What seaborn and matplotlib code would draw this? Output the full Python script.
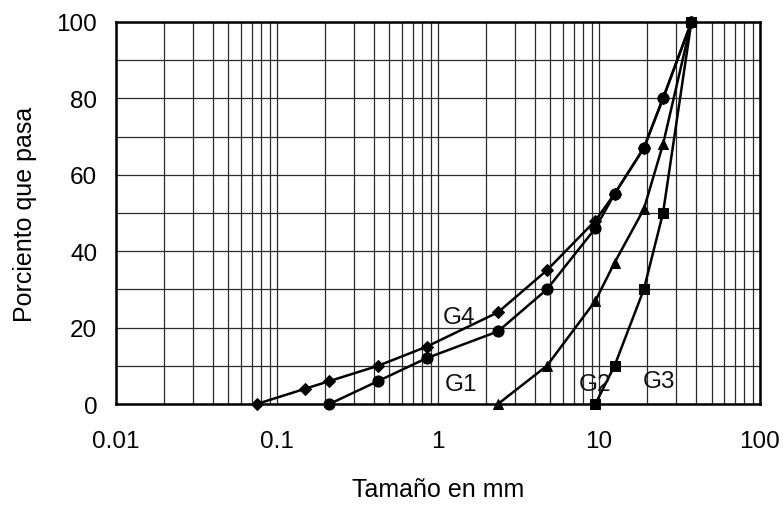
import numpy as np
import pandas as pd
import matplotlib
matplotlib.use("Agg")
import matplotlib.pyplot as plt
import seaborn as sns
from matplotlib.ticker import FixedLocator, NullFormatter

# tamaños de tamiz (mm) y porcentaje que pasa
g1_size = [0.212, 0.425, 0.85, 2.36, 4.75, 9.5, 12.5, 19, 25, 37.5]
g1_pass = [0, 6, 12, 19, 30, 46, 55, 67, 80, 100]

g2_size = [2.36, 4.75, 9.5, 12.5, 19, 25, 37.5]
g2_pass = [0, 10, 27, 37, 51, 68, 100]

g3_size = [9.5, 12.5, 19, 25, 37.5]
g3_pass = [0, 10, 30, 50, 100]

g4_size = [0.075, 0.15, 0.212, 0.425, 0.85, 2.36, 4.75, 9.5, 12.5, 19, 25, 37.5]
g4_pass = [0, 4, 6, 10, 15, 24, 35, 48, 55, 67, 80, 100]

x_ticks = [0.01, 0.1, 1, 10, 100]
x_labels = ["0.01", "0.1", "1", "10", "100"]
y_ticks = [0, 20, 40, 60, 80, 100]

# (nombre, tamaños, pasa, marcador, tamaño marcador, posición etiqueta)
series = [
    ("G4", g4_size, g4_pass, "D", 6, (1.35, 22.8)),
    ("G1", g1_size, g1_pass, "o", 8, (1.39, 5.2)),
    ("G2", g2_size, g2_pass, "^", 7, (9.45, 5.2)),
    ("G3", g3_size, g3_pass, "s", 7.5, (23.6, 6.0)),
]

sns.set_theme(style="white")
plt.rcParams['font.family'] = ['Liberation Sans', 'DejaVu Sans']

fig = plt.figure(figsize=(7.83, 5.06), dpi=100)
ax = fig.add_axes([0.148, 0.1996, 0.8226, 0.755])
ax.set_xscale('log')

for name, xs, ys, mk, ms, lab in series:
    df = pd.DataFrame({"size": xs, "pass": ys})
    sns.lineplot(data=df, x="size", y="pass", ax=ax, color="black", lw=1.8,
                 marker=mk, markersize=ms, markeredgecolor="black",
                 markerfacecolor="black", sort=False, clip_on=False, zorder=5)
    ax.text(lab[0], lab[1], name, ha="center", va="center", fontsize=17.5,
            color="#111111", zorder=6)

ax.set_xlim(0.01, 100)
ax.set_ylim(0, 100)

# rejilla: todas las divisiones menores logarítmicas y cada 10 %
minor = [m * 10.0 ** e for e in range(-2, 2) for m in range(2, 10)]
ax.xaxis.set_major_locator(FixedLocator(x_ticks))
ax.xaxis.set_minor_locator(FixedLocator(minor))
ax.xaxis.set_minor_formatter(NullFormatter())
ax.set_xticklabels(x_labels)
ax.set_yticks(y_ticks)
ax.yaxis.set_minor_locator(FixedLocator(np.arange(10, 100, 20)))
ax.grid(True, which="both", color="#2b2b2b", lw=0.9)

ax.tick_params(axis="both", which="both", length=0, labelsize=17.5, colors="black")
ax.tick_params(axis="x", pad=19)
ax.tick_params(axis="y", pad=13.5)

for s in ax.spines.values():
    s.set_color("black")
    s.set_linewidth(1.8)
    s.set_zorder(7)

ax.set_xlabel("Tamaño en mm", fontsize=18, color="black", labelpad=18)
ax.set_ylabel("Porciento que pasa", fontsize=18, color="black", labelpad=14)

fig.savefig("out.png", dpi=100, facecolor="white")
